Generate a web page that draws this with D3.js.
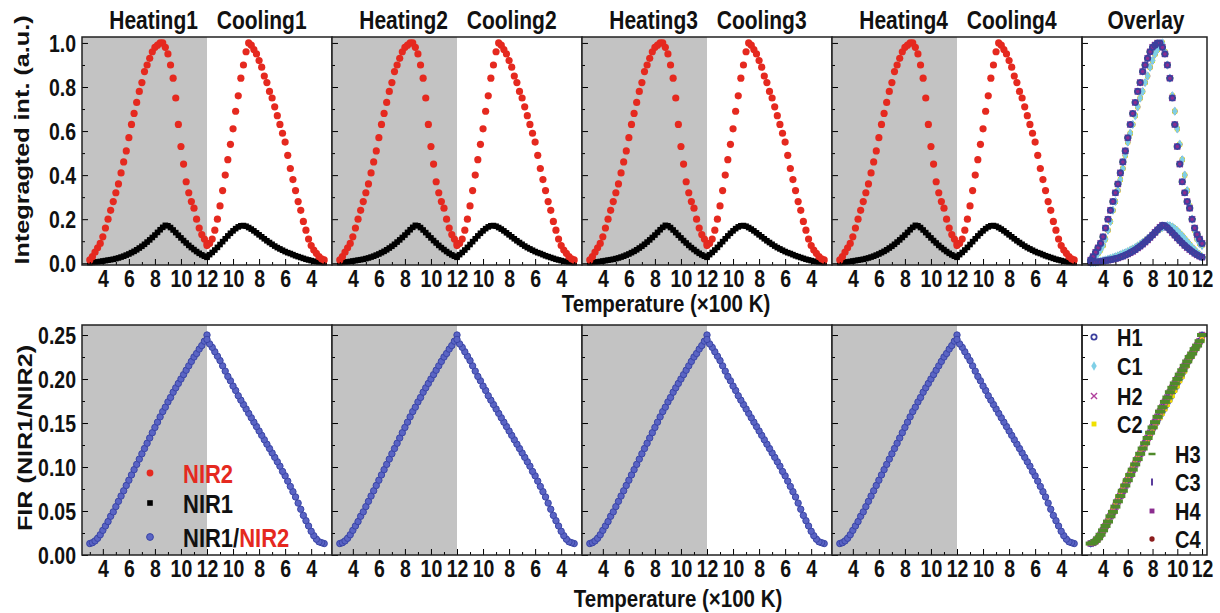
<!DOCTYPE html>
<html>
<head>
  <meta charset="utf-8">
  <title>Heating / cooling cycles</title>
  <script src="https://d3js.org/d3.v7.min.js"></script>
  <style>
    body { margin: 0; background: #fff; }
    text { font-family: "Liberation Sans", Arial, sans-serif; font-weight: bold; fill: #111; }
  </style>
</head>
<body>
<script>
// Temperatures (x100 K), same grid for heating and cooling runs
var temps = [3.0,3.2,3.4,3.6,3.8,4.0,4.2,4.4,4.6,4.8,5.0,5.2,5.4,5.6,5.8,6.0,6.2,6.4,6.6,6.8,7.0,7.2,7.4,7.6,7.8,
             8.0,8.2,8.4,8.6,8.8,9.0,9.2,9.4,9.6,9.8,10.0,10.2,10.4,10.6,10.8,11.0,11.2,11.4,11.6,11.8,12.0];

// NIR2 integrated intensity (normalised)
var nir2Heat = [0.015,0.03,0.05,0.07,0.09,0.12,0.16,0.20,0.24,0.28,0.32,0.36,0.41,0.46,0.51,0.57,0.63,0.68,0.73,0.78,
                0.82,0.87,0.90,0.93,0.96,0.98,0.99,1.0,1.0,0.98,0.95,0.90,0.84,0.75,0.63,0.53,0.45,0.37,0.32,0.28,
                0.25,0.20,0.16,0.13,0.11,0.09];
var nir2Cool = [0.015,0.02,0.03,0.045,0.06,0.08,0.11,0.15,0.19,0.24,0.28,0.33,0.38,0.43,0.49,0.55,0.59,0.63,0.67,0.71,
                0.75,0.78,0.82,0.85,0.89,0.92,0.95,0.97,0.99,1.0,0.96,0.90,0.84,0.76,0.69,0.61,0.54,0.47,0.40,0.33,
                0.26,0.20,0.15,0.11,0.09,0.08];

// NIR1 integrated intensity
var nir1Heat = [0.003,0.004,0.005,0.006,0.008,0.010,0.012,0.014,0.016,0.018,0.021,0.024,0.028,0.032,0.037,0.042,0.048,
                0.054,0.061,0.069,0.077,0.086,0.096,0.106,0.117,0.128,0.140,0.152,0.163,0.172,0.170,0.162,0.151,0.139,
                0.127,0.115,0.103,0.092,0.081,0.071,0.062,0.053,0.045,0.038,0.032,0.027];
var nir1Cool = [0.003,0.004,0.005,0.007,0.009,0.012,0.015,0.018,0.022,0.026,0.030,0.034,0.039,0.044,0.048,0.053,0.059,
                0.065,0.071,0.078,0.086,0.094,0.102,0.111,0.120,0.129,0.138,0.147,0.155,0.162,0.168,0.171,0.170,0.165,
                0.157,0.147,0.136,0.124,0.111,0.098,0.085,0.072,0.060,0.049,0.039,0.030];

// FIR = NIR1/NIR2
var firHeat = [0.013,0.014,0.016,0.019,0.023,0.028,0.033,0.038,0.044,0.049,0.055,0.061,0.067,0.073,0.079,0.085,0.091,
               0.097,0.103,0.109,0.115,0.121,0.127,0.133,0.139,0.145,0.151,0.157,0.163,0.168,0.174,0.179,0.185,0.190,
               0.195,0.200,0.205,0.210,0.215,0.220,0.225,0.229,0.234,0.238,0.243,0.250];
var firCool = [0.013,0.014,0.015,0.018,0.022,0.027,0.033,0.039,0.045,0.052,0.059,0.066,0.072,0.078,0.084,0.090,0.095,
               0.101,0.106,0.111,0.116,0.121,0.126,0.131,0.136,0.141,0.146,0.151,0.156,0.161,0.166,0.171,0.176,0.181,
               0.187,0.192,0.198,0.203,0.209,0.215,0.221,0.226,0.231,0.236,0.240,0.245];

var cycleNums = ["1", "2", "3", "4"];
var runNames = ["H1", "C1", "H2", "C2", "H3", "C3", "H4", "C4"];
var runColors = ["#3b3f9e", "#7fcfe6", "#b0409c", "#f0e000", "#4f8a2a", "#5b3d9c", "#8b2d8f", "#8c1c1c"];
var runMarkers = ["ocircle", "diamond", "times", "square", "hdash", "vdash", "square", "circle"];

var hcTicks = [4, 6, 8, 10, 12, 14, 16, 18, 20];
var hcMinor = [3, 5, 7, 9, 11, 13, 15, 17, 19, 21];
var ovTicks = [4, 6, 8, 10, 12];
var ovMinor = [3, 5, 7, 9, 11];
var intTicks = [0, 0.2, 0.4, 0.6, 0.8, 1.0];
var intMinor = [0.1, 0.3, 0.5, 0.7, 0.9];
var firTicks = [0, 0.05, 0.10, 0.15, 0.20, 0.25];
var firMinor = [0.025, 0.075, 0.125, 0.175, 0.225];

var red = "#e5291f", gray = "#c3c3c3";
var stretch = 1.2; // the source figure's lettering is tall and narrow

var svg = d3.select("body").append("svg")
  .attr("width", 1220)
  .attr("height", 613);

var rows = [
  {top: 37, bottom: 265, domain: [-0.008, 1.027], ticks: intTicks, minor: intMinor, fmt: d3.format(".1f")},
  {top: 325, bottom: 555, domain: [0, 0.2614], ticks: firTicks, minor: firMinor, fmt: d3.format(".2f")}
];

var panelW = 250;

// text with the same vertical stretch as the original lettering
function label(parent, x, y, str, size, anchor) {
  return parent.append("text")
    .attr("transform", "translate(" + x + "," + y + ") scale(1," + stretch + ")")
    .attr("text-anchor", anchor || "start")
    .style("font-size", size + "px")
    .text(str);
}

function markerPath(type, big) {
  if (type == "circle" || type == "ocircle") return d3.symbol(d3.symbolCircle, 22)();
  if (type == "diamond") return d3.symbol(d3.symbolDiamond, 26)();
  if (type == "times") return d3.symbol(d3.symbolTimes, 26)();
  if (type == "square") return d3.symbol(d3.symbolSquare, 24)();
  if (type == "hdash") return big ? "M-5,0H5" : "M-3.5,0H3.5";
  if (type == "vdash") return "M0,-3.5V3.5";
}
function styleMarker(sel, type, color, big) {
  var stroked = (type == "ocircle" || type == "times" || type == "hdash" || type == "vdash");
  sel.attr("d", markerPath(type, big))
    .attr("fill", stroked ? "none" : color)
    .attr("stroke", stroked ? color : "none")
    .attr("stroke-width", type == "hdash" ? (big ? 4 : 2.5) : (type == "vdash" ? 2 : (type == "ocircle" ? 1.8 : 1.4)));
}

function drawAxes(g, x, y, row, ticks, minor, labelFn) {
  var xa = g.append("g").attr("transform", "translate(0," + row.bottom + ")")
    .call(d3.axisBottom(x).tickValues(ticks).tickSizeInner(-6).tickSizeOuter(0).tickFormat(labelFn));
  xa.select(".domain").remove();
  xa.selectAll("text").attr("y", null).attr("dy", null)
    .attr("transform", "translate(0,22) scale(1," + stretch + ")")
    .style("font-size", "19.5px").attr("fill", "#111");
  var xm = g.append("g").attr("transform", "translate(0," + row.bottom + ")")
    .call(d3.axisBottom(x).tickValues(minor).tickSizeInner(-3).tickSizeOuter(0).tickFormat(""));
  xm.select(".domain").remove();

  var x0 = x.range()[0];
  var ya = g.append("g").attr("transform", "translate(" + x0 + ",0)")
    .call(d3.axisLeft(y).tickValues(row.ticks).tickSizeInner(-6).tickSizeOuter(0).tickPadding(6).tickFormat(row.fmt));
  ya.select(".domain").remove();
  ya.selectAll("text").attr("dy", null)
    .attr("transform", "translate(0,8.4) scale(1," + stretch + ")")
    .style("font-size", "19.5px").attr("fill", "#111");
  var ym = g.append("g").attr("transform", "translate(" + x0 + ",0)")
    .call(d3.axisLeft(y).tickValues(row.minor).tickSizeInner(-3).tickSizeOuter(0).tickFormat(""));
  ym.select(".domain").remove();
  return ya;
}

// Heating / cooling panels
cycleNums.forEach(function(c, i) {
  var x0 = 82 + i * panelW;
  var x = d3.scaleLinear().domain([2.4, 21.6]).range([x0, x0 + panelW]);

  rows.forEach(function(row, r) {
    var y = d3.scaleLinear().domain(row.domain).range([row.bottom, row.top]);
    var g = svg.append("g");

    g.append("rect")
      .attr("x", x(2.4)).attr("y", row.top)
      .attr("width", x(12) - x(2.4)).attr("height", row.bottom - row.top)
      .attr("fill", gray);

    if (r == 0) {
      g.selectAll(".n1h").data(temps).enter().append("rect")
        .attr("x", function(t) { return x(t) - 2.8; })
        .attr("y", function(t, k) { return y(nir1Heat[k]) - 2.8; })
        .attr("width", 5.6).attr("height", 5.6).attr("fill", "#000");
      g.selectAll(".n1c").data(temps).enter().append("rect")
        .attr("x", function(t) { return x(24 - t) - 2.8; })
        .attr("y", function(t, k) { return y(nir1Cool[k]) - 2.8; })
        .attr("width", 5.6).attr("height", 5.6).attr("fill", "#000");
      g.selectAll(".n2h").data(temps).enter().append("circle")
        .attr("cx", function(t) { return x(t); })
        .attr("cy", function(t, k) { return y(nir2Heat[k]); })
        .attr("r", 3.6).attr("fill", red);
      g.selectAll(".n2c").data(temps).enter().append("circle")
        .attr("cx", function(t) { return x(24 - t); })
        .attr("cy", function(t, k) { return y(nir2Cool[k]); })
        .attr("r", 3.6).attr("fill", red);

      label(g, x(7.9), 28.5, "Heating" + c, 21, "middle");
      label(g, x(16.2), 28.5, "Cooling" + c, 21, "middle");
    } else {
      g.selectAll(".fh").data(temps).enter().append("circle")
        .attr("cx", function(t) { return x(t); })
        .attr("cy", function(t, k) { return y(firHeat[k]); })
        .attr("r", 3.2).attr("fill", "#5a64c4").attr("stroke", "#3a45a6").attr("stroke-width", 1);
      g.selectAll(".fc").data(temps).enter().append("circle")
        .attr("cx", function(t) { return x(24 - t); })
        .attr("cy", function(t, k) { return y(firCool[k]); })
        .attr("r", 3.2).attr("fill", "#5a64c4").attr("stroke", "#3a45a6").attr("stroke-width", 1);
    }

    var ya = drawAxes(g, x, y, row, hcTicks, hcMinor, function(u) { return u <= 12 ? u : 24 - u; });
    if (i > 0) ya.selectAll("text").remove();

    g.append("rect")
      .attr("x", x0).attr("y", row.top)
      .attr("width", panelW).attr("height", row.bottom - row.top)
      .attr("fill", "none").attr("stroke", "#222").attr("stroke-width", 1.5);
  });
});

// Overlay panels
var ox0 = 1082, oxW = 125;
var xo = d3.scaleLinear().domain([2.3, 12.4]).range([ox0, ox0 + oxW]);
var runIntensity = function(k) { return k % 2 == 0 ? [nir2Heat, nir1Heat] : [nir2Cool, nir1Cool]; };
var runFir = function(k) { return k % 2 == 0 ? firHeat : firCool; };

rows.forEach(function(row, r) {
  var y = d3.scaleLinear().domain(row.domain).range([row.bottom, row.top]);
  var g = svg.append("g");
  var order = r == 0 ? [7, 4, 5, 3, 2, 1, 6, 0] : [7, 6, 1, 0, 5, 3, 2, 4];
  order.forEach(function(k) {
    var sets = r == 0 ? runIntensity(k) : [runFir(k)];
    sets.forEach(function(vals) {
      g.selectAll(null).data(temps).enter().append("path")
        .attr("transform", function(t, j) { return "translate(" + xo(t) + "," + y(vals[j]) + ")"; })
        .call(styleMarker, runMarkers[k], runColors[k], r == 1);
    });
  });
  drawAxes(g, xo, y, row, ovTicks, ovMinor, d3.format("d")).selectAll("text").remove();
  g.append("rect")
    .attr("x", ox0).attr("y", row.top)
    .attr("width", oxW).attr("height", row.bottom - row.top)
    .attr("fill", "none").attr("stroke", "#222").attr("stroke-width", 1.5);
  if (r == 0) label(g, 1146, 28.5, "Overlay", 21, "middle");
});

// Overlay legend (bottom row)
var legPos = [[1094, 337], [1094, 366], [1094, 396], [1094, 424], [1152, 454], [1152, 482], [1152, 511], [1152, 539]];
runNames.forEach(function(name, k) {
  var lg = svg.append("g").attr("transform", "translate(" + legPos[k][0] + "," + legPos[k][1] + ")");
  lg.append("path").call(styleMarker, runMarkers[k], runColors[k], false);
  label(lg, 23, 8.5, name, 20);
});

// Legend in first FIR panel
var leg = svg.append("g").attr("transform", "translate(150,0)");
leg.append("circle").attr("cx", 0).attr("cy", 473).attr("r", 3.4).attr("fill", red);
label(leg, 33, 482.5, "NIR2", 22).style("fill", red);
leg.append("rect").attr("x", -2.8).attr("y", 500.2).attr("width", 5.6).attr("height", 5.6).attr("fill", "#000");
label(leg, 33, 512.5, "NIR1", 22);
leg.append("circle").attr("cx", 0).attr("cy", 537).attr("r", 3.4).attr("fill", "#5a64c4").attr("stroke", "#3a45a6");
var t3 = label(leg, 33, 547, "NIR1/", 22);
t3.append("tspan").style("fill", red).text("NIR2");

// Axis titles
label(svg, 666, 312, "Temperature (\u00d7100 K)", 20.5, "middle");
label(svg, 678, 607, "Temperature (\u00d7100 K)", 20.5, "middle");
svg.append("text").attr("transform", "translate(29,140) scale(1," + stretch + ") rotate(-90)")
  .attr("text-anchor", "middle").style("font-size", "21px").text("Integragted int. (a.u.)");
svg.append("text").attr("transform", "translate(32,438) scale(1," + stretch + ") rotate(-90)")
  .attr("text-anchor", "middle").style("font-size", "21px").text("FIR (NIR1/NIR2)");
</script>
</body>
</html>
